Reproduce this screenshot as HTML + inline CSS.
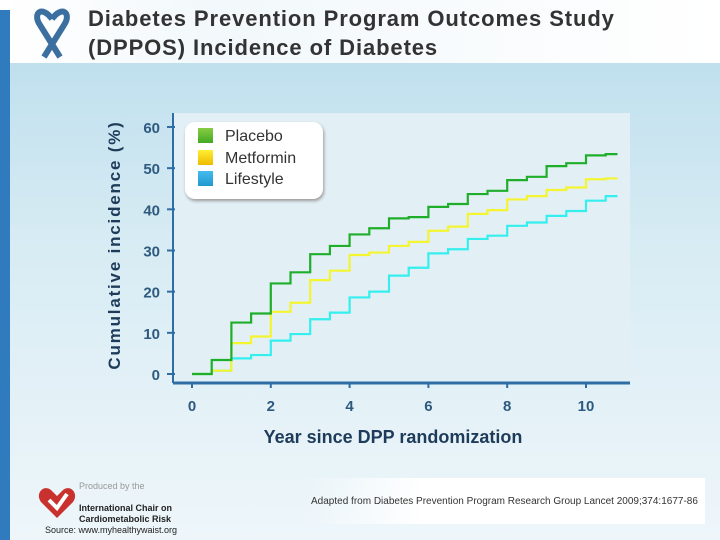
<!DOCTYPE html>
<html><head><meta charset="utf-8"><style>
body{margin:0;}
#page{position:relative;width:720px;height:540px;overflow:hidden;font-family:"Liberation Sans",sans-serif;background:linear-gradient(#c0e0ee 63px,#d8ecf4 250px,#eef6fa 540px);}
.abs{position:absolute;}
</style></head><body>
<div id="page">
<div class="abs" style="left:0;top:0;width:720px;height:63px;background:linear-gradient(90deg,#fff,#f2f8fb 30%,#fff);"></div>
<div class="abs" style="left:0;top:10px;width:10px;height:530px;background:#2f7bbd;"></div>
<svg class="abs" style="left:32px;top:5px" width="40" height="55" viewBox="0 0 40 55"><path d="M20 14 C10 0 0 8 8 20 L28 52 M20 14 C30 0 40 8 32 20 L12 52" stroke="#3a6fa0" stroke-width="6" fill="none"/></svg>
<div class="abs" style="left:88px;top:4px;font-size:22px;letter-spacing:0.9px;line-height:29px;font-weight:bold;color:#333;">Diabetes Prevention Program Outcomes Study<br>(DPPOS) Incidence of Diabetes</div>
<svg class="abs" style="left:0;top:0" width="720" height="540">
<rect x="173" y="113" width="457" height="270" fill="#e2f0f6"/>
<g id="axes"></g><g id="series"></g>
<text x="120" y="245" transform="rotate(-90 120 245)" text-anchor="middle" font-size="17" letter-spacing="1.8" font-weight="bold" fill="#1e3c5a">Cumulative incidence (%)</text>
<text x="393" y="443" text-anchor="middle" font-size="18" font-weight="bold" fill="#1e3c5a">Year since DPP randomization</text>
</svg>
<div class="abs" style="left:185px;top:122px;width:138px;height:77px;background:#fff;border-radius:10px;box-shadow:1px 2px 3px #999;"></div>
<div class="abs" style="left:198px;top:128px;font-size:16px;color:#333;"><span style="display:inline-block;width:15px;height:15px;background:linear-gradient(#8c4,#4a2);vertical-align:-2px;margin-right:12px"></span>Placebo</div>
<div class="abs" style="left:198px;top:150px;font-size:16px;color:#333;"><span style="display:inline-block;width:15px;height:15px;background:linear-gradient(#fe3,#eb0);vertical-align:-2px;margin-right:12px"></span>Metformin</div>
<div class="abs" style="left:198px;top:171px;font-size:16px;color:#333;"><span style="display:inline-block;width:15px;height:15px;background:linear-gradient(#4be,#29c);vertical-align:-2px;margin-right:12px"></span>Lifestyle</div>
<div class="abs" style="left:305px;top:478px;width:400px;height:46px;background:linear-gradient(90deg,rgba(255,255,255,0),#fff 30%);"></div>
<div class="abs" style="left:311px;top:496px;font-size:10px;color:#333;">Adapted from Diabetes Prevention Program Research Group Lancet 2009;374:1677-86</div>
<svg class="abs" style="left:37px;top:484px" width="40" height="36" viewBox="0 0 40 36"><path d="M20 34 L4 18 C-2 10 6 0 14 6 L20 12 L26 6 C34 0 42 10 36 18 Z" fill="#c8312e"/><path d="M12 16 L20 24 L30 10" stroke="#fff" stroke-width="4" fill="none"/></svg>
<div class="abs" style="left:79px;top:481px;font-size:9px;line-height:11px;color:#222;font-weight:bold;"><span style="color:#999;font-weight:normal">Produced by the</span><br><br>International Chair on<br>Cardiometabolic Risk</div>
<div class="abs" style="left:45px;top:525px;font-size:9px;color:#222;">Source: www.myhealthywaist.org</div>
</div>
<script>
const xTicks=[0,2,4,6,8,10];
const yTicks=[0,10,20,30,40,50,60];
const times=[0,0.5,1,1.5,2,2.5,3,3.5,4,4.5,5,5.5,6,6.5,7,7.5,8,8.5,9,9.5,10,10.5];
const placebo=[0,3.4,12.5,14.7,22,24.7,29.1,31.1,33.9,35.4,37.8,38.1,40.6,41.3,43.7,44.5,47.1,47.9,50.5,51.2,53.1,53.4];
const metformin=[0,0.8,7.5,9.1,15.1,17.3,22.8,25.1,28.9,29.5,31.1,32.1,34.8,35.8,38.9,39.8,42.4,43.2,44.7,45.3,47.3,47.5];
const lifestyle=[0,0.8,3.8,4.6,8.1,9.7,13.3,14.9,18.6,20,23.9,25.8,29.3,30.3,32.8,33.6,36,36.8,38.4,39.6,42.1,43.2];
const tEnd=10.8;
const X=t=>192+t*39.4, Y=v=>374-v*4.117;
const NS='http://www.w3.org/2000/svg';
const ax=document.getElementById('axes'), sr=document.getElementById('series');
function mk(tag,attrs,parent){const e=document.createElementNS(NS,tag);for(const k in attrs)e.setAttribute(k,attrs[k]);parent.appendChild(e);return e;}
let l=mk('line',{x1:173,y1:383,x2:630,y2:383,stroke:'#2f6ea5','stroke-width':3},ax);


l=mk('line',{x1:173,y1:113,x2:173,y2:383,stroke:'#2f6ea5','stroke-width':2},ax);


xTicks.forEach(t=>{
 mk('line',{x1:X(t),y1:383,x2:X(t),y2:388,stroke:'#2f6ea5','stroke-width':2},ax);
 const tx=mk('text',{x:X(t),y:411,'text-anchor':'middle','font-size':15,'font-weight':'bold',fill:'#2f5a80'},ax);
 tx.textContent=t;
 
 
});
yTicks.forEach(v=>{
 mk('line',{x1:167,y1:Y(v),x2:175,y2:Y(v),stroke:'#2f6ea5','stroke-width':2},ax);
 const tx=mk('text',{x:160,y:Y(v)+6,'text-anchor':'end','font-size':15,'font-weight':'bold',fill:'#2f5a80'},ax);
 tx.textContent=v;
 
 
});
function step(vals,color,name){
 let d='M'+X(times[0])+' '+Y(vals[0]);
 for(let i=1;i<times.length;i++){d+=' H'+X(times[i])+' V'+Y(vals[i]);}
 d+=' H'+X(tEnd);
 const p=mk('path',{d:d,fill:'none',stroke:color,'stroke-width':2.2},sr);
 
 
}
step(lifestyle,'#35eeee','lifestyle-line');
step(metformin,'#f4f431','metformin-line');
step(placebo,'#1fae2a','placebo-line');
</script>
</body></html>
